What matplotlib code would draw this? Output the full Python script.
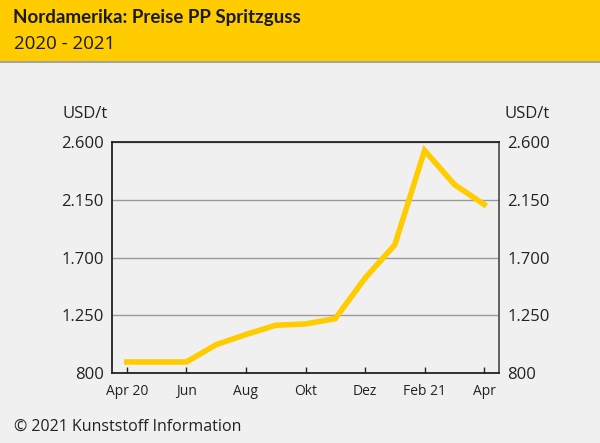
import matplotlib
matplotlib.use('Agg')
import matplotlib.pyplot as plt
from matplotlib.patches import Rectangle

plt.rcParams['font.family'] = ['Open Sans', 'DejaVu Sans']

# data (USD/t), monthly Apr 2020 - Apr 2021
months = ['Apr 20', 'Mai', 'Jun', 'Jul', 'Aug', 'Sep', 'Okt', 'Nov', 'Dez',
          'Jan 21', 'Feb 21', 'Mär', 'Apr']
prices = [886, 886, 886, 1021, 1100, 1172, 1182, 1224, 1539, 1799, 2534, 2269, 2113]
yticks = [800, 1250, 1700, 2150, 2600]
ytick_labels = ['800', '1.250', '1.700', '2.150', '2.600']
xtick_pos = [0, 2, 4, 6, 8, 10, 12]
xtick_labels = ['Apr 20', 'Jun', 'Aug', 'Okt', 'Dez', 'Feb 21', 'Apr']

title = 'Nordamerika: Preise PP Spritzguss'
subtitle = '2020 - 2021'
unit = 'USD/t'
source = '© 2021 Kunststoff Information'

yellow = '#ffcc00'
bg = '#eff0ef'
W, H = 600, 443

fig = plt.figure(figsize=(6, 4.43), dpi=100, facecolor=bg)

# header band
fig.patches.append(Rectangle((0, 1 - 61 / H), 1, 61 / H, transform=fig.transFigure,
                             facecolor=yellow, edgecolor='none', zorder=0))
fig.patches.append(Rectangle((0, 1 - 63 / H), 1, 2 / H, transform=fig.transFigure,
                             facecolor='#a3a3a3', edgecolor='none', zorder=0))
fig.text(13 / W, 1 - 17 / H, title, fontsize=13.5, fontweight='bold', family='Lato',
         color='#1a1a1a', va='center', ha='left')
fig.text(14 / W, 1 - 44 / H, subtitle, fontsize=13.5, color='#1a1a1a',
         va='center', ha='left')

# axes
left, right, top, bottom = 112, 499, 142, 373
ax = fig.add_axes([left / W, 1 - bottom / H, (right - left) / W, (bottom - top) / H])
ax.set_facecolor(bg)

ax.plot(range(len(prices)), prices, color=yellow, lw=4, solid_joinstyle='miter', zorder=3)

ax.set_xlim(-0.5, 12.5)
ax.set_ylim(800, 2600)
ax.set_yticks(yticks)
ax.set_yticklabels(ytick_labels)
ax.set_xticks(xtick_pos)
ax.set_xticklabels(xtick_labels)

ax.grid(axis='y', color='#9a9a9a', lw=1)
ax.set_axisbelow(True)

for s in ['left', 'bottom', 'top']:
    ax.spines[s].set_color('#222222')
    ax.spines[s].set_linewidth(1.3)
ax.spines['right'].set_color('#555555')
ax.spines['right'].set_linewidth(1.3)

ax.tick_params(axis='x', direction='in', length=4, width=1, color='#222222',
               labelsize=10, labelcolor='#222222', pad=8)
ax.tick_params(axis='y', length=0, labelsize=12, labelcolor='#222222', pad=6,
               labelright=True, right=False)

fig.text(63 / W, 1 - 114 / H, unit, fontsize=12, color='#222222', va='center', ha='left')
fig.text(505 / W, 1 - 114 / H, unit, fontsize=12, color='#222222', va='center', ha='left')

fig.text(14 / W, 1 - 427 / H, source, fontsize=11.5, color='#222222', va='center', ha='left')

fig.savefig('out.png', dpi=100, facecolor=bg)
